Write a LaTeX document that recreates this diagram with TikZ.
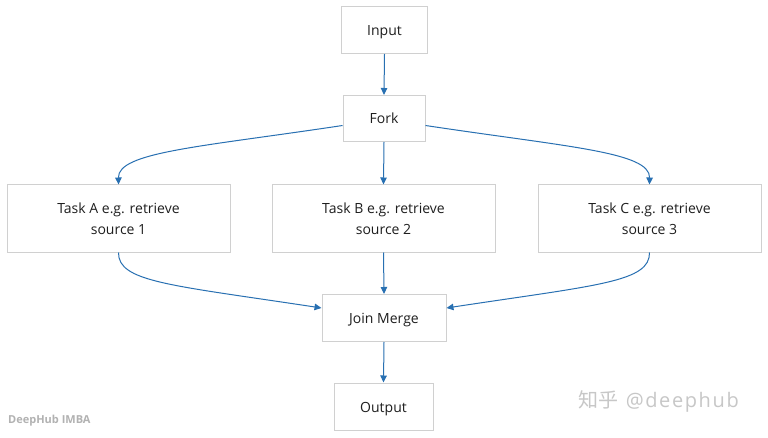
\documentclass[tikz,border=0pt]{standalone}
\usepackage{fontspec}
\setmainfont{Open Sans}
\newfontfamily\cjkfont{Noto Sans CJK SC}
\usetikzlibrary{arrows.meta}
\definecolor{edgeblue}{RGB}{40,112,178}
\definecolor{boxgray}{RGB}{208,208,208}
\definecolor{txt}{RGB}{30,30,30}
\begin{document}
\begin{tikzpicture}[x=1pt,y=1pt,
  box/.style={draw=boxgray,line width=1pt,fill=white,inner sep=0pt,font=\fontsize{14}{21}\selectfont,text=txt,align=center},
  onebox/.style={box,text height=11pt,text depth=0pt},
  conn/.style={draw=edgeblue,line width=1pt,-{Triangle[length=7pt,width=6.5pt]}}]
\useasboundingbox (0,0) rectangle (768,437);
\fill[white] (0,0) rectangle (768,437);
% y_tikz = 437 - y_px
\node[onebox,minimum width=86pt,minimum height=47pt] (input) at (384.5,407) {Input};
\node[onebox,minimum width=82pt,minimum height=46pt] (fork) at (384,318.5) {Fork};
\node[box,minimum width=223pt,minimum height=67pt] (taskA) at (118.5,218.5) {Task A e.g. retrieve\\source 1};
\node[box,minimum width=223pt,minimum height=67pt] (taskB) at (383.5,218.5) {Task B e.g. retrieve\\source 2};
\node[box,minimum width=223pt,minimum height=67pt] (taskC) at (649.5,218.5) {Task C e.g. retrieve\\source 3};
\node[onebox,minimum width=124pt,minimum height=47pt] (join) at (384,119) {Join Merge};
\node[onebox,minimum width=99pt,minimum height=47pt] (output) at (383.5,30.5) {Output};
\coordinate (forkW) at ([yshift=-7pt]fork.west);
\coordinate (forkE) at ([yshift=-7pt]fork.east);
\coordinate (joinW) at ([yshift=10pt]join.west);
\coordinate (joinE) at ([yshift=10pt]join.east);
\draw[conn] (input.south) -- (fork.north);
\draw[conn] (forkW) .. controls (200,290) and (118,285) .. (taskA.north);
\draw[conn] (fork.south) -- (taskB.north);
\draw[conn] (forkE) .. controls (568,290) and (650,285) .. (taskC.north);
\draw[conn] (taskA.south) .. controls (118,155) and (170,152) .. (joinW);
\draw[conn] (taskB.south) -- (join.north);
\draw[conn] (taskC.south) .. controls (650,155) and (598,152) .. (joinE);
\draw[conn] (join.south) -- (output.north);
\node[anchor=west,text=black!30,font=\fontsize{11}{13}\selectfont\bfseries,inner sep=0pt] (wm1) at (8,16) {DeepHub IMBA};
\node[anchor=west,text=black!22,font=\fontsize{20}{22}\selectfont\addfontfeatures{LetterSpace=8},inner sep=0pt] (wm2) at (578,36) {{\cjkfont\addfontfeatures{LetterSpace=4} 知乎} @deephub};
\end{tikzpicture}
\end{document}
